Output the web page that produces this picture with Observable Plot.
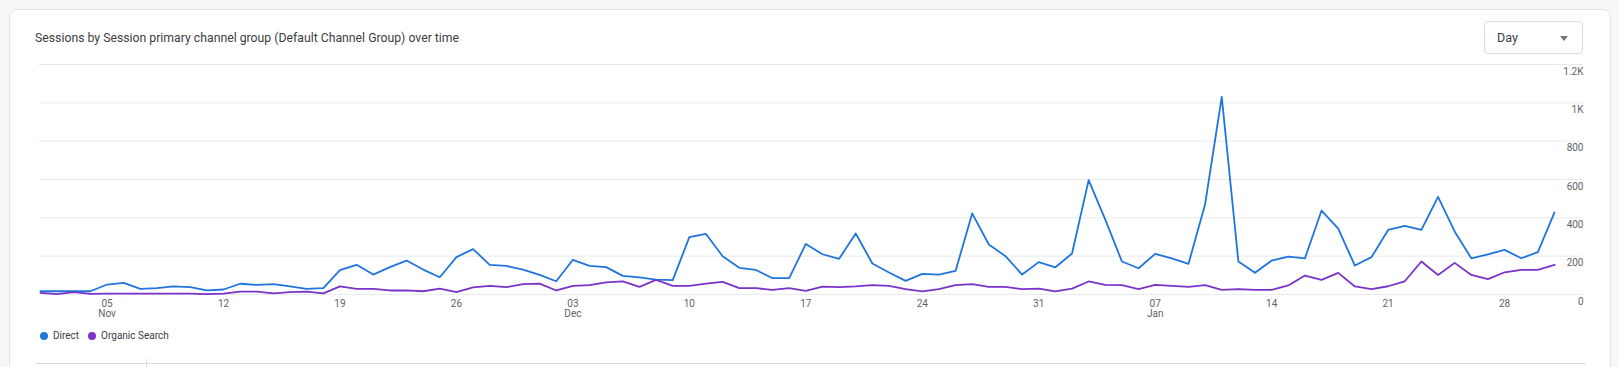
<!DOCTYPE html>
<html>
<head>
<meta charset="utf-8">
<script src="https://cdn.jsdelivr.net/npm/d3@7"></script>
<script src="https://cdn.jsdelivr.net/npm/@observablehq/plot@0.6"></script>
<style>
  html, body { margin: 0; padding: 0; }
  body { width: 1619px; height: 367px; overflow: hidden; background: #f6f7f8; font-family: Roboto, "Noto Sans", sans-serif; position: relative; }
  #card { position: absolute; left: 9px; top: 9px; width: 1600px; height: 420px; background: #fff; border: 1px solid #e3e4e6; border-radius: 8px; }
  #title { position: absolute; left: 35px; top: 31px; font-size: 12.25px; color: #3c4043; white-space: nowrap; }
  #dd { position: absolute; left: 1484px; top: 21px; width: 97px; height: 31px; border: 1px solid #dadce0; border-radius: 4px; background: #fff; }
  #dd span { position: absolute; left: 12px; top: 8px; font-size: 12.5px; color: #3c4043; }
  #dd i { position: absolute; left: 75px; top: 14px; width: 0; height: 0; border-left: 4.5px solid transparent; border-right: 4.5px solid transparent; border-top: 5px solid #757575; }
  #chart { position: absolute; left: 0; top: 0; }
  #legend { position: absolute; left: 40px; top: 330px; font-size: 10px; color: #3c4043; display: flex; align-items: center; white-space: nowrap; }
  #legend .sw { display: inline-block; width: 8px; height: 8px; border-radius: 50%; margin-right: 5px; }
  #legend .it { display: flex; align-items: center; margin-right: 9px; }
  #tbl { position: absolute; left: 36px; top: 363px; width: 1550px; height: 1px; background: #dadce0; }
  #tblv { position: absolute; left: 146px; top: 359px; width: 1px; height: 8px; background: #dadce0; }
</style>
</head>
<body>
<div id="card"></div>
<div id="title">Sessions by Session primary channel group (Default Channel Group) over time</div>
<div id="dd"><span>Day</span><i></i></div>
<div id="chart"></div>
<div id="legend"></div>
<div id="tbl"></div><div id="tblv"></div>
<script>
// ---- data ----
const startDate = "2023-11-01"; // first day shown (daily points)
const seriesNames = ["Direct", "Organic Search"];
const seriesColors = ["#1f74de", "#7b32c9"];
const direct = [17,17,17,17,52,61,29,33,42,38,21,26,56,50,54,42,29,33,127,155,104,143,177,130,90,195,237,155,149,130,102,69,181,149,143,97,89,78,75,299,316,200,139,128,85,85,264,210,186,318,162,115,71,108,104,123,423,261,200,104,169,142,214,597,391,172,137,212,189,160,471,1031,172,113,177,198,189,438,344,151,195,337,358,337,509,329,189,209,233,189,221,428];
const organic = [8,2,12,3,5,5,5,5,5,5,2,5,15,15,6,12,15,6,42,29,29,21,21,17,31,12,37,45,38,54,57,21,45,49,63,68,40,76,45,45,57,66,33,33,24,33,19,41,38,42,49,45,28,16,28,49,54,40,40,28,31,16,31,68,50,49,28,50,45,40,49,24,28,24,24,47,99,76,113,42,28,43,69,172,102,165,102,80,116,128,128,155];
const yTicks = [0, 200, 400, 600, 800, 1000, 1200];
const yTickLabels = ["0", "200", "400", "600", "800", "1K", "1.2K"];

// ---- build table ----
const t0 = new Date(startDate + "T00:00:00Z");
const dates = direct.map((_, i) => d3.utcDay.offset(t0, i));
const rows = [];
[direct, organic].forEach((vals, s) => vals.forEach((v, i) => rows.push({date: dates[i], value: v, series: seriesNames[s]})));
const xTicks = d3.utcSunday.range(dates[0], dates[dates.length - 1]);
const monthFmt = d3.utcFormat("%b");
const dayFmt = d3.utcFormat("%d");

const chart = Plot.plot({
  width: 1619,
  height: 330,
  marginLeft: 40,
  marginRight: 65,
  marginTop: 64,
  marginBottom: 36,
  style: {fontFamily: "Roboto, 'Noto Sans', sans-serif", background: "transparent"},
  x: {type: "utc", domain: [dates[0], dates[dates.length - 1]]},
  y: {domain: [0, 1200]},
  color: {domain: seriesNames, range: seriesColors},
  marks: [
    Plot.ruleY(yTicks, {stroke: "#e8eaed", strokeWidth: 1, insetLeft: -1, insetRight: -29}),
    Plot.axisY({anchor: "right", ticks: yTicks, tickSize: 0, tickPadding: 0, textAnchor: "end", dx: 29, dy: 7,
      tickFormat: d => yTickLabels[yTicks.indexOf(d)], fontSize: 10, fill: "#5f6368", label: null}),
    Plot.axisX({ticks: xTicks, tickSize: 7, tickPadding: -2, stroke: "#eeeff1", fill: "#5f6368", fontSize: 10, label: null,
      tickFormat: d => d.getUTCDate() <= 7 ? dayFmt(d) + "\n" + monthFmt(d) : dayFmt(d)}),
    Plot.line(rows, {x: "date", y: "value", z: "series", stroke: "series", strokeWidth: 1.8, curve: "linear"})
  ]
});
document.getElementById("chart").appendChild(chart);

const lg = document.getElementById("legend");
seriesNames.forEach((n, i) => {
  const it = document.createElement("span");
  it.className = "it";
  it.innerHTML = `<span class="sw" style="background:${seriesColors[i]}"></span>${n}`;
  lg.appendChild(it);
});
</script>
</body>
</html>
